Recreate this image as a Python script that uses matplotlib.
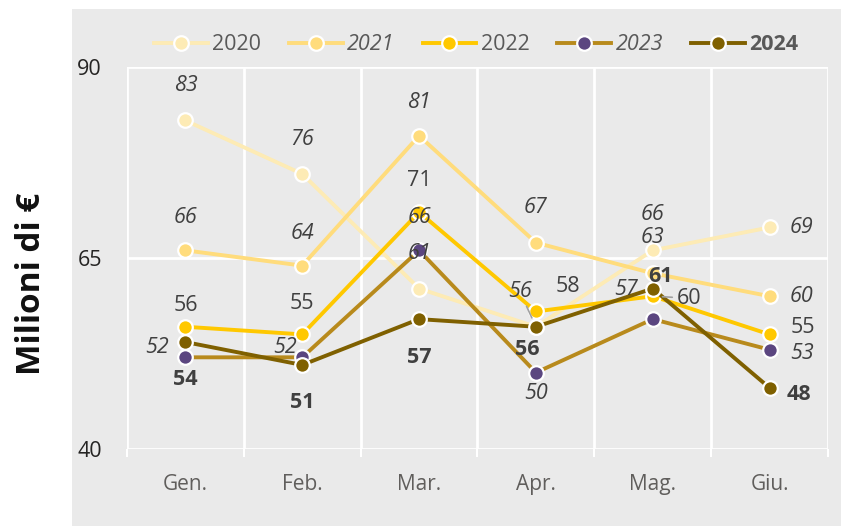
import matplotlib.pyplot as plt
from matplotlib.lines import Line2D
from matplotlib.patches import Rectangle

plt.rcParams["font.family"] = ["Open Sans", "DejaVu Sans"]

months = ["Gen.", "Feb.", "Mar.", "Apr.", "Mag.", "Giu."]
years = ["2020", "2021", "2022", "2023", "2024"]
v2020 = [83, 76, 61, 56, 66, 69]
v2021 = [66, 64, 81, 67, 63, 60]
v2022 = [56, 55, 71, 58, 60, 55]
v2023 = [52, 52, 66, 50, 57, 53]
v2024 = [54, 51, 57, 56, 61, 48]

series = [v2020, v2021, v2022, v2023, v2024]
line_colors = ["#FDEBB5", "#FFDC7C", "#FFC800", "#B88A1C", "#7F6000"]
marker_colors = ["#FDEBB5", "#FFDC7C", "#FFC800", "#5B4680", "#7F6000"]
label_styles = [("italic", "normal"), ("italic", "normal"), ("normal", "normal"),
                ("italic", "normal"), ("normal", "bold")]
legend_styles = [("normal", "normal"), ("italic", "normal"), ("normal", "normal"),
                 ("italic", "normal"), ("normal", "bold")]

# label offsets in pixels (dx right, dy down) so the numbers don't collide
offsets = [
    [(0, -35), (0, -34), (0, -35), (-16, -35), (0, -36), (32, 0)],
    [(0, -33), (0, -32), (0, -33), (0, -35), (0, -36), (32, 0)],
    [(0, -21), (0, -31), (0, -32), (32, -25), (36, 2), (33, -7)],
    [(-28, -10), (-17, -10), (0, -33), (0, 21), (-27, -30), (32, 4)],
    [(0, 37), (0, 38), (0, 38), (-9, 23), (8, -12), (29, 7)],
]
leaders = {(0, 3), (2, 4)}

fig = plt.figure(figsize=(8.41, 5.26), dpi=100)
fig.patches.append(Rectangle((72 / 841, 0), 1, 1 - 9 / 526, transform=fig.transFigure,
                             facecolor="#EAEAEA", edgecolor="none", zorder=-1))
ax = fig.add_axes([127 / 841, 1 - 449 / 526, 701 / 841, 382 / 526])
ax.set_facecolor("none")
ax.set_zorder(2)

x = list(range(len(months)))
for i, vals in enumerate(series):
    ax.plot(x, vals, color=line_colors[i], lw=2.8, marker="o", markersize=10.5,
            markerfacecolor=marker_colors[i], markeredgecolor="white",
            markeredgewidth=1.6, zorder=3 + i, solid_capstyle="round")

for i, vals in enumerate(series):
    style, weight = label_styles[i]
    for j, v in enumerate(vals):
        dx, dy = offsets[i][j]
        kw = {}
        if (i, j) in leaders:
            kw["arrowprops"] = dict(arrowstyle="-", color="#A0A0A0", lw=1.2,
                                    shrinkA=1, shrinkB=7)
        ax.annotate(str(v), (j, v), xytext=(dx, -dy), textcoords="offset pixels",
                    ha="center", va="center", fontsize=15.5, color="#404040",
                    fontstyle=style, fontweight=weight, zorder=20, **kw)

ax.set_xlim(-0.5, 5.5)
ax.set_ylim(40, 90)
ax.set_yticks([40, 65, 90])
ax.set_xticks(x)
ax.set_xticklabels(months)
ax.set_xticks([k - 0.5 for k in range(7)], minor=True)
ax.grid(True, which="major", axis="y", color="white", lw=2, zorder=1)
ax.grid(True, which="minor", axis="x", color="white", lw=2, zorder=1)
ax.grid(False, which="major", axis="x")
ax.set_axisbelow(True)
ax.tick_params(axis="x", which="major", length=0, pad=18, labelsize=15, labelcolor="#605E5C")
ax.tick_params(axis="x", which="minor", length=5.5, width=1.5, color="white", direction="out")
ax.tick_params(axis="y", length=0, pad=18, labelsize=15.5, labelcolor="#252423")
for s in ax.spines.values():
    s.set_visible(False)

fig.text(32 / 841, 1 - 284 / 526, "Milioni di €", rotation=90, ha="center", va="center",
         fontsize=24, fontweight="bold", color="#111111")

handles = [Line2D([], [], color=line_colors[i], lw=2.8, marker="o", markersize=10.5,
                  markerfacecolor=marker_colors[i], markeredgecolor="white",
                  markeredgewidth=1.6) for i in range(5)]
leg = fig.legend(handles, years, loc="center", bbox_to_anchor=(476 / 841, 1 - 45 / 526),
                 ncol=5, frameon=False, fontsize=15.5, handlelength=2.5, handletextpad=0.2,
                 columnspacing=1.3)
for t, (style, weight) in zip(leg.get_texts(), legend_styles):
    t.set_color("#595959")
    t.set_fontstyle(style)
    t.set_fontweight(weight)

fig.savefig("out.png", dpi=100)
